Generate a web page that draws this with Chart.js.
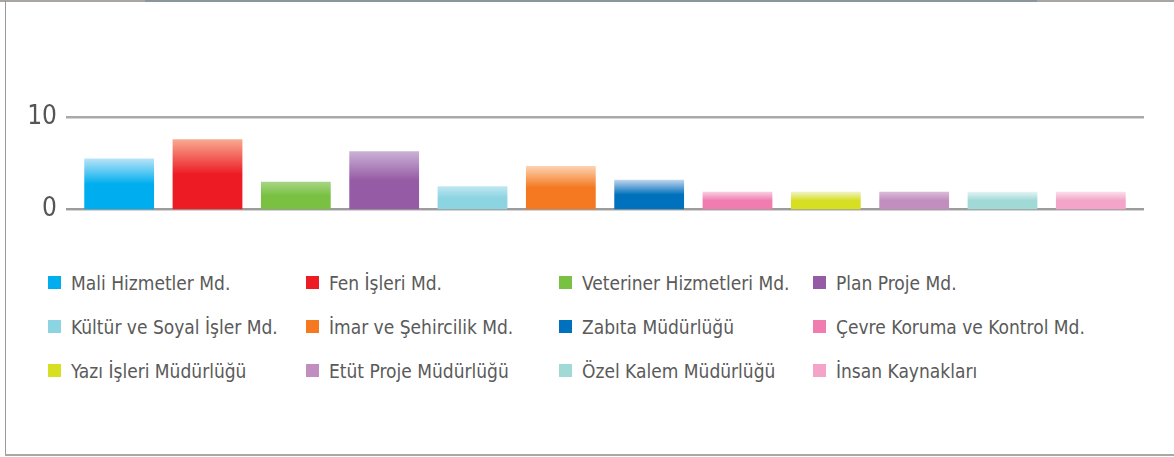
<!DOCTYPE html>
<html lang="tr">
<head>
<meta charset="utf-8">
<title>Müdürlükler</title>
<script src="https://cdn.jsdelivr.net/npm/chart.js@4.4.1/dist/chart.umd.min.js"></script>
<style>
  html, body { margin: 0; padding: 0; background: #fff; }
  #frame {
    position: relative;
    width: 1174px;
    height: 457px;
    overflow: hidden;
  }
  .edge { position: absolute; }
  #edge-top { left: 0; top: 0; width: 1174px; height: 2px; background: #a9a5a2; }
  #edge-top-mid { left: 145px; top: 0; width: 892px; height: 2px; background: #8b969b; }
  #edge-left { left: 5px; top: 0; width: 1px; height: 456px; background: #9a9a9a; }
  #edge-bottom { left: 5px; top: 454px; width: 1169px; height: 2px; background: #a8a8a8; }
  #chart-box {
    position: absolute;
    left: 0; top: 0;
    width: 1174px; height: 243px;
  }
  #legend {
    position: absolute;
    left: 48px; top: 272px;
    display: grid;
    grid-template-columns: 258px 253px 254px 300px;
    grid-auto-rows: 44px;
    font-family: "Liberation Sans Narrow", "DejaVu Sans Condensed", sans-serif;
    font-size: 19px;
    color: #5a5a5a;
  }
  .legend-item { display: flex; align-items: flex-start; white-space: nowrap; }
  .legend-swatch { width: 13px; height: 13px; margin: 4px 10px 0 0; flex: none; }
</style>
</head>
<body>
<div id="frame">
  <div class="edge" id="edge-top"></div>
  <div class="edge" id="edge-top-mid"></div>
  <div class="edge" id="edge-left"></div>
  <div class="edge" id="edge-bottom"></div>
  <div id="chart-box"><canvas id="deptChart"></canvas></div>
  <div id="legend"></div>
</div>
<script>
// birimler ve değerleri
const departments = [
  "Mali Hizmetler Md.", "Fen İşleri Md.", "Veteriner Hizmetleri Md.", "Plan Proje Md.",
  "Kültür ve Soyal İşler Md.", "İmar ve Şehircilik Md.", "Zabıta Müdürlüğü", "Çevre Koruma ve Kontrol Md.",
  "Yazı İşleri Müdürlüğü", "Etüt Proje Müdürlüğü", "Özel Kalem Müdürlüğü", "İnsan Kaynakları"
];
const counts = [5.5, 7.6, 3, 6.3, 2.5, 4.7, 3.2, 1.9, 1.9, 1.9, 1.9, 1.9];
const yTicks = [0, 10];

const baseColors = [
  "#00aeef", "#ed1c24", "#7ac143", "#965ba5",
  "#8dd4e3", "#f47920", "#0071bc", "#f07cb0",
  "#d7df23", "#c28dbf", "#a0d9d6", "#f3a4c8"
];
const topColors = [
  "#b8e4f7", "#f8ab92", "#a8d585", "#cbb2d6",
  "#c0e8f1", "#fdd3b2", "#c2d5ee", "#f8cfe1",
  "#eff4c4", "#d9bcd8", "#e2f4f3", "#fbdeeb"
];

const fontFamily = "'Liberation Sans Narrow', 'DejaVu Sans Condensed', sans-serif";

// her çubuğun üst kısmı açık renkten koyu renge geçiyor
function barFill(ctx) {
  const chart = ctx.chart;
  const i = ctx.dataIndex;
  const y = chart.scales.y;
  if (!chart.chartArea || !y || ctx.type !== "data") return baseColors[i];
  const top = y.getPixelForValue(counts[i]);
  const base = y.getPixelForValue(0);
  const g = chart.ctx.createLinearGradient(0, top, 0, base);
  g.addColorStop(0, topColors[i]);
  g.addColorStop(0.5, baseColors[i]);
  g.addColorStop(1, baseColors[i]);
  return g;
}

// yatay kılavuz çizgileri, çubuk alanından biraz taşacak şekilde
const wideGrid = {
  id: "wideGrid",
  beforeDatasetsDraw(chart) {
    const { ctx, chartArea, scales } = chart;
    ctx.save();
    yTicks.forEach(t => {
      const py = Math.round(scales.y.getPixelForValue(t));
      ctx.fillStyle = t === 0 ? "#9c9c9c" : "#a9a9a9";
      ctx.fillRect(chartArea.left - 9, py - 1, chartArea.right - chartArea.left + 18, 2);
      ctx.fillStyle = "#d4d4d4";
      ctx.fillRect(chartArea.left - 9, py + 1, chartArea.right - chartArea.left + 18, 1);
    });
    ctx.restore();
  }
};

new Chart(document.getElementById("deptChart"), {
  type: "bar",
  data: {
    labels: departments,
    datasets: [{
      data: counts,
      backgroundColor: barFill,
      borderWidth: 0,
      barPercentage: 0.79,
      categoryPercentage: 1
    }]
  },
  options: {
    responsive: true,
    maintainAspectRatio: false,
    animation: false,
    layout: { padding: { top: 117, right: 39, bottom: 22, left: 0 } },
    plugins: {
      legend: { display: false },
      tooltip: { enabled: false }
    },
    scales: {
      x: { display: false },
      y: {
        min: 0,
        max: 10,
        afterFit(scale) { scale.width = 75; },
        afterBuildTicks(scale) { scale.ticks = yTicks.map(v => ({ value: v })); },
        grid: { display: false, drawTicks: false },
        border: { display: false },
        ticks: {
          padding: 18,
          color: "#555",
          font: { family: fontFamily, size: 26 }
        }
      }
    }
  },
  plugins: [wideGrid]
});

// lejant: 4 sütun, 3 satır
const legend = document.getElementById("legend");
legend.innerHTML = departments.map((name, i) => `
  <div class="legend-item">
    <span class="legend-swatch" style="background:${baseColors[i]}"></span>
    <span>${name}</span>
  </div>
`).join("");
</script>
</body>
</html>
